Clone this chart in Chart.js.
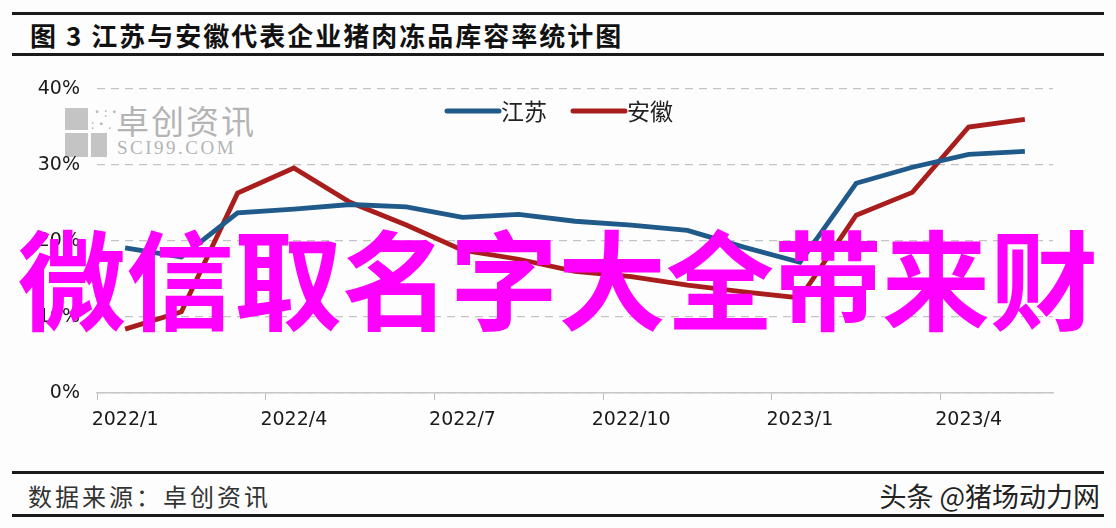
<!DOCTYPE html>
<html>
<head>
<meta charset="utf-8">
<script src="https://cdn.jsdelivr.net/npm/chart.js@4.4.0/dist/chart.umd.min.js"></script>
<style>
    body { margin: 0; background: #fdfdfd; }
    #page { position: relative; width: 1116px; height: 528px; overflow: hidden; font-family: "Noto Sans CJK SC", sans-serif; }
    #chart { position: absolute; left: 0; top: 0; z-index: 2; }
    .rule { position: absolute; left: 12px; width: 1092px; height: 3px; background: #1a1a1a; }
    .title { position: absolute; left: 30px; top: 16px; font-size: 26px; font-weight: bold; letter-spacing: 2px; color: #111; line-height: 38px; }
    .foot { position: absolute; top: 478px; font-size: 24px; line-height: 36px; color: #333; }
    .mark { position: absolute; z-index: 1; color: #b4b4b4; }
    .overlay { position: absolute; left: 0; top: 210px; width: 1116px; text-align: center; z-index: 3;
        font-size: 108px; font-weight: bold; line-height: 130px; color: #ff00ff; }
</style>
</head>
<body>
<div id="page">
    <div class="rule" style="top: 12px;"></div>
    <div class="title">图 3 江苏与安徽代表企业猪肉冻品库容率统计图</div>
    <div class="rule" style="top: 53px;"></div>

    <!-- faded source watermark -->
    <div class="mark" style="left: 65px; top: 108px; width: 23px; height: 22px; background: #c4c4c4;"></div>
    <div class="mark" style="left: 65px; top: 133px; width: 23px; height: 24px; background: #c4c4c4;"></div>
    <div class="mark" style="left: 91px; top: 133px; width: 16px; height: 24px; background: #c4c4c4;"></div>
    <div class="mark" style="left: 91px; top: 106px; font-size: 12px; line-height: 12px; letter-spacing: 1px;">·:·<br>:·.</div>
    <div class="mark" style="left: 116px; top: 101px; font-size: 33px; line-height: 38px; letter-spacing: 2px;">卓创资讯</div>
    <div class="mark" style="left: 117px; top: 137px; font-family: 'Liberation Serif', serif; font-size: 19px; line-height: 22px; letter-spacing: 2.5px;">SCI99.COM</div>

    <canvas id="chart" width="1116" height="528"></canvas>

    <div class="overlay">微信取名字大全带来财</div>

    <div class="rule" style="top: 471px;"></div>
    <div class="foot" style="left: 28px; letter-spacing: 3px;">数据来源：卓创资讯</div>
    <div class="foot" style="right: 16px; font-size: 27px; color: #222;">头条 @猪场动力网</div>
    <div class="rule" style="top: 514px;"></div>
</div>

<script>
const months = ['2022/1', '2022/2', '2022/3', '2022/4', '2022/5', '2022/6', '2022/7', '2022/8', '2022/9',
    '2022/10', '2022/11', '2022/12', '2023/1', '2023/2', '2023/3', '2023/4', '2023/5'];
const jiangsu = [19.1, 17.9, 23.7, 24.2, 24.8, 24.5, 23.1, 23.5, 22.6, 22.1, 21.4, 19.2, 17.2, 27.6, 29.7, 31.4, 31.8];
const anhui = [8.4, 10.7, 26.3, 29.6, 25.1, 22.1, 18.8, 17.6, 16.0, 15.3, 14.2, 13.3, 12.5, 23.4, 26.4, 35.0, 36.0];
const seriesNames = ['江苏', '安徽'];
const yTicks = [0, 10, 20, 30, 40];

// legend sits inside the plot, so draw it ourselves
const inlineLegend = {
    id: 'inlineLegend',
    afterDatasetsDraw(chart) {
        const ctx = chart.ctx;
        const lineLen = 56;
        const gap = 24;
        ctx.save();
        ctx.font = '23px "Noto Sans CJK SC"';
        ctx.textBaseline = 'middle';
        let total = 0;
        chart.data.datasets.forEach((ds, i) => {
            total += lineLen + ctx.measureText(ds.label).width + (i > 0 ? gap : 0);
        });
        let x = 559 - total / 2;
        const y = 111;
        chart.data.datasets.forEach((ds, i) => {
            if (i > 0) x += gap;
            ctx.strokeStyle = ds.borderColor;
            ctx.lineWidth = 5;
            ctx.lineCap = 'round';
            ctx.beginPath();
            ctx.moveTo(x + 2, y);
            ctx.lineTo(x + lineLen - 2, y);
            ctx.stroke();
            x += lineLen;
            ctx.fillStyle = '#222';
            ctx.fillText(ds.label, x, y);
            x += ctx.measureText(ds.label).width;
        });
        ctx.restore();
    }
};

const data = {
    labels: months,
    datasets: [{
        label: seriesNames[0],
        data: jiangsu,
        borderColor: '#1f5a8a',
        borderWidth: 4.8,
        pointRadius: 0,
        tension: 0
    }, {
        label: seriesNames[1],
        data: anhui,
        borderColor: '#a91d1d',
        borderWidth: 4.8,
        pointRadius: 0,
        tension: 0
    }]
};

const config = {
    type: 'line',
    data: data,
    plugins: [inlineLegend],
    options: {
        responsive: false,
        animation: false,
        layout: {
            padding: { top: 89, right: 63, bottom: 90, left: 0 }
        },
        plugins: {
            legend: { display: false },
            tooltip: { enabled: false }
        },
        scales: {
            x: {
                offset: true,
                afterFit: scale => { scale.height = 45; },
                grid: {
                    offset: true,
                    drawOnChartArea: false,
                    tickLength: 7,
                    color: c => (c.index % 3 === 0 ? '#bdbdbd' : 'rgba(0,0,0,0)')
                },
                border: { color: '#c8c8c8', width: 1.5 },
                ticks: {
                    autoSkip: false,
                    maxRotation: 0,
                    padding: 9,
                    color: '#1a1a1a',
                    font: { family: 'DejaVu Sans', size: 19 },
                    callback: (v, i) => (i % 3 === 0 ? months[i] : '')
                }
            },
            y: {
                min: yTicks[0],
                max: yTicks[yTicks.length - 1],
                afterFit: scale => { scale.width = 97; },
                afterBuildTicks: scale => { scale.ticks = yTicks.map(v => ({ value: v })); },
                grid: { color: '#c4c4c4', lineWidth: 1.2, drawTicks: false, borderDash: [8, 6] },
                border: { display: false, dash: [8, 6] },
                ticks: {
                    padding: 17,
                    color: '#1a1a1a',
                    font: { family: 'DejaVu Sans', size: 19 },
                    callback: v => v + '%'
                }
            }
        }
    }
};

const chart = new Chart(document.getElementById('chart'), config);
</script>
</body>
</html>
